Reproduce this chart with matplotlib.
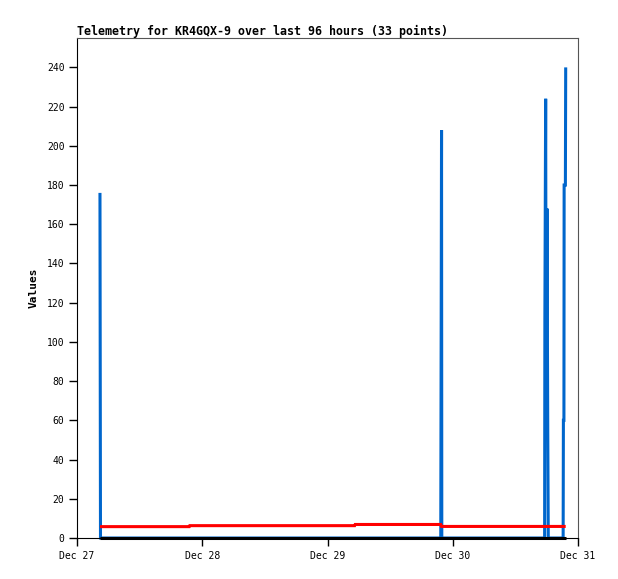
import matplotlib.pyplot as plt
import matplotlib.dates as mdates
import pandas as pd

# hours after Dec 27 00:00 for each telemetry packet
hours = [4.40, 4.50, 8.0, 12.0, 16.0, 21.5, 21.6, 26.0, 32.0, 38.0, 44.0,
         50.0, 53.2, 53.3, 58.0, 63.0, 69.7, 69.85, 69.9, 80.0, 89.6,
         89.65, 89.8, 89.9, 90.05, 90.2, 90.3, 93.15, 93.2, 93.3, 93.34, 93.58, 93.64]
ch_a = [176, 0, 0, 0, 0, 0, 0, 0, 0, 0, 0,
        0, 0, 0, 0, 0, 0, 208, 0, 0, 0,
        112, 224, 56, 168, 56, 0, 0, 60, 60, 180, 180, 240]
ch_b = [5.8, 5.8, 5.8, 5.8, 5.8, 5.8, 6.3, 6.3, 6.3, 6.3, 6.3,
        6.3, 6.3, 6.9, 6.9, 6.9, 6.9, 5.9, 5.9, 5.9, 5.9,
        5.9, 5.9, 5.9, 5.9, 5.9, 5.9, 5.9, 5.9, 5.9, 5.9, 5.9, 5.9]
ch_c = [0] * 33

start = pd.Timestamp("2024-12-27")
ts = start + pd.to_timedelta(hours, unit="h")

fig = plt.figure(figsize=(6.18, 5.79), dpi=100)
ax = fig.add_axes([0.1246, 0.0708, 0.8107, 0.8636])

style = dict(linewidth=2.2, solid_joinstyle="miter", solid_capstyle="butt", clip_on=False)
ax.plot(ts, ch_a, color="#0066cc", **style)
ax.plot(ts, ch_b, color="#ff0000", **style)
ax.plot(ts, ch_c, color="#000000", **style)

ax.set_xlim(start, start + pd.Timedelta(days=4))
ax.set_ylim(0, 255)
ax.set_yticks(range(0, 241, 20))
ax.xaxis.set_major_locator(mdates.DayLocator())
ax.xaxis.set_major_formatter(mdates.DateFormatter("%b %d"))

mono = "DejaVu Sans Mono"
for lab in ax.get_xticklabels() + ax.get_yticklabels():
    lab.set_fontfamily(mono)
    lab.set_fontsize(7)
ax.tick_params(direction="out", length=6, width=1, pad=3)

for side in ["left", "bottom"]:
    ax.spines[side].set_color("black")
for side in ["top", "right"]:
    ax.spines[side].set_color("#555555")

ax.set_ylabel("Values", fontfamily=mono, fontweight="bold", fontsize=8, labelpad=6)
ax.set_title("Telemetry for KR4GQX-9 over last 96 hours (33 points)",
             fontfamily=mono, fontweight="bold", fontsize=8.35, loc="left", pad=2)

fig.savefig("out.png", dpi=100)
plt.close(fig)
